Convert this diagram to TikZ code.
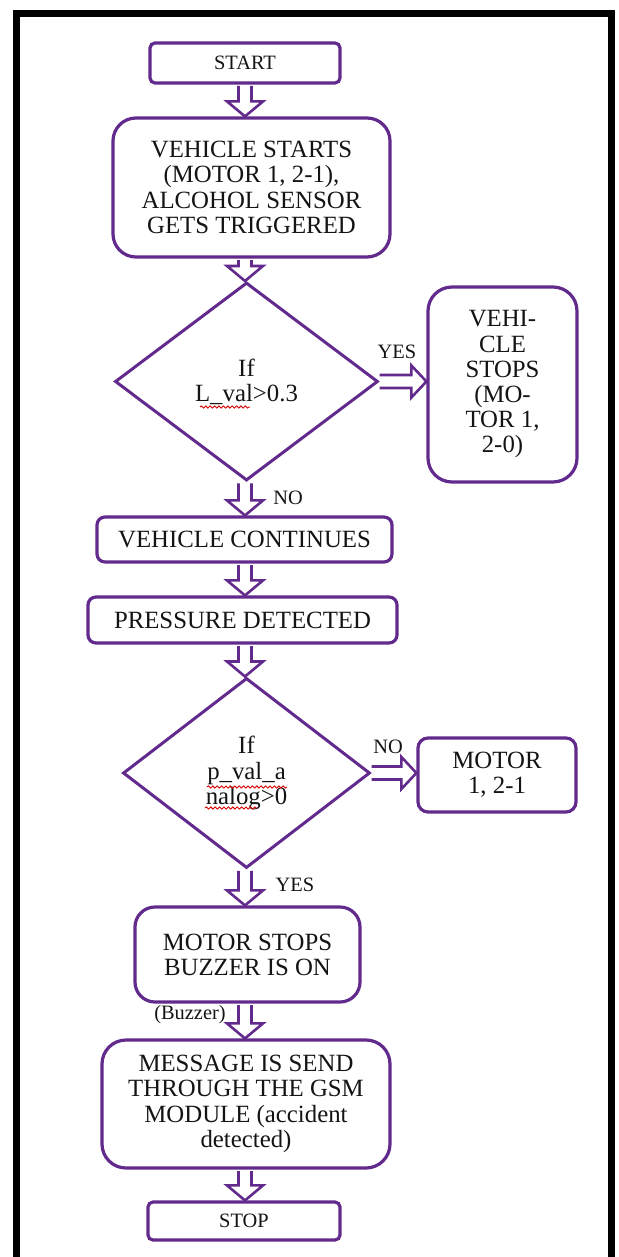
\documentclass[tikz,border=0pt]{standalone}
\usepackage{fontspec}
\setmainfont{Liberation Serif}
\usetikzlibrary{shapes.geometric,decorations.pathmorphing,calc}
\definecolor{pcol}{RGB}{98,42,140}
\definecolor{tcol}{RGB}{20,20,20}
\newcommand\mainsz{\fontsize{12.4}{12.6}\selectfont}
\newcommand\smallsz{\fontsize{10.2}{12}\selectfont}
\tikzset{
  box/.style={draw=pcol, line width=1.6pt, fill=white, align=center, inner sep=0pt, text=tcol, font=\mainsz},
  dia/.style={draw=pcol, line width=1.5pt, shape=diamond, fill=white, align=center, inner sep=0pt, text=tcol, font=\mainsz},
  lbl/.style={inner sep=0pt, text=tcol, font=\smallsz},
  blk/.style={draw=pcol, fill=white, line width=1.3pt, line join=miter},
  squig/.style={draw=red!85!black, line width=0.45pt, decorate, decoration={snake, amplitude=0.55pt, segment length=2.2pt}},
  frame/.style={draw=black, line width=3.5pt, line join=miter}
}
\newcommand\vblk[2]{%
  \draw[blk] let \p1=(#1.south -| axis), \p2=(#2.north -| axis) in
    (\x1-3.25pt,\y1-0.7pt) -- (\x1-3.25pt,\y2+7.5pt) -- (\x1-9pt,\y2+7.5pt) -- (\x1,\y2)
    -- (\x1+9pt,\y2+7.5pt) -- (\x1+3.25pt,\y2+7.5pt) -- (\x1+3.25pt,\y1-0.7pt);}
\newcommand\hblk[2]{%
  \draw[blk] let \p1=(#1.east), \p2=(#2.west) in
    (\x1,\y1+3.25pt) -- (\x2-7.5pt,\y1+3.25pt) -- (\x2-7.5pt,\y1+8pt) -- (\x2,\y1)
    -- (\x2-7.5pt,\y1-8pt) -- (\x2-7.5pt,\y1-3.25pt) -- (\x1,\y1-3.25pt);}
\begin{document}
\begin{tikzpicture}[x=0.5pt,y=-0.5pt]
\useasboundingbox[fill=white] (0,0) rectangle (618,1257);
\coordinate (axis) at (245,0);
% frame
\draw[frame] (16.5,1275) -- (16.5,13.5) -- (611.5,13.5) -- (611.5,1275);
% nodes
\node[box, rounded corners=2.5pt, font=\smallsz, minimum width=95pt, minimum height=20pt] (start) at (245,63) {START};
\node[box, rounded corners=11.5pt, minimum width=138.5pt, minimum height=69.5pt] (vs) at (251.5,187.5) {VEHICLE STARTS\\(MOTOR 1, 2-1),\\ALCOHOL SENSOR\\GETS TRIGGERED};
\node[dia, minimum width=131.5pt, minimum height=99pt] (d1) at (246.5,381.5) {If\\L\_val>0.3};
\node[box, rounded corners=12pt, minimum width=74.5pt, minimum height=97.5pt] (vstop) at (502.5,384.5) {VEHI-\\CLE\\STOPS\\(MO-\\TOR 1,\\2-0)};
\node[box, rounded corners=4pt, minimum width=147.5pt, minimum height=22.5pt] (vc) at (244.5,539.5) {VEHICLE CONTINUES};
\node[box, rounded corners=4pt, minimum width=154.5pt, minimum height=23pt] (pd) at (242.5,620) {PRESSURE DETECTED};
\node[dia, minimum width=123.5pt, minimum height=95pt] (d2) at (246.5,773) {If\\p\_val\_a\\nalog>0};
\node[box, rounded corners=5pt, minimum width=79pt, minimum height=37pt] (motor) at (497,775) {MOTOR\\1, 2-1};
\node[box, rounded corners=10pt, minimum width=112.5pt, minimum height=47.5pt] (ms) at (247.5,954.5) {MOTOR STOPS\\BUZZER IS ON};
\node[box, rounded corners=12pt, minimum width=144pt, minimum height=64pt] (msg) at (246,1104) {MESSAGE IS SEND\\THROUGH THE GSM\\MODULE (accident\\detected)};
\node[box, rounded corners=2.5pt, font=\smallsz, minimum width=96pt, minimum height=19pt] (stop) at (244,1221) {STOP};
% labels
\node[lbl] (yes1) at (397,352) {YES};
\node[lbl] (no1) at (288,498) {NO};
\node[lbl] (no2) at (388,747) {NO};
\node[lbl] (yes2) at (295,885) {YES};
\node[lbl] (buz) at (190,1015) {(Buzzer)};
% spell-check squiggles
\draw[squig] (200,407) -- (250,407);
\draw[squig] (207,787) -- (287,787);
\draw[squig] (205,808) -- (258,808);
% block arrows
\vblk{start}{vs}
\vblk{vs}{d1}
\hblk{d1}{vstop}
\vblk{d1}{vc}
\vblk{vc}{pd}
\vblk{pd}{d2}
\hblk{d2}{motor}
\vblk{d2}{ms}
\vblk{ms}{msg}
\vblk{msg}{stop}
\end{tikzpicture}
\end{document}
